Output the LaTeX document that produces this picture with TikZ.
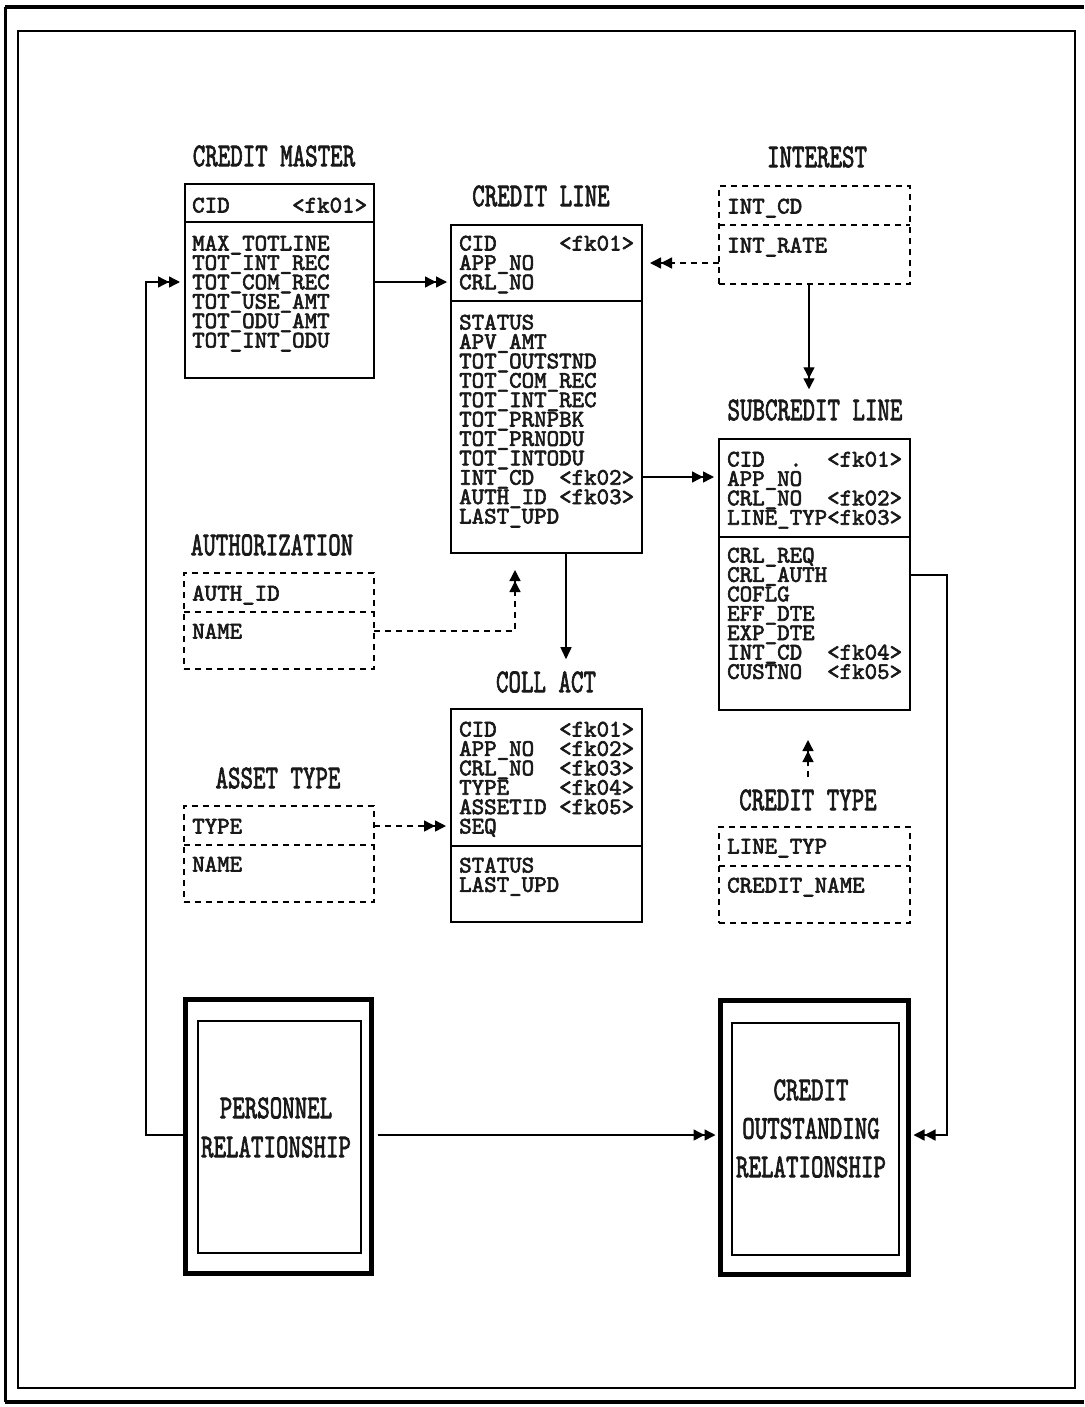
\documentclass[tikz,border=0pt]{standalone}
\usepackage{fontspec}
\usepackage{graphicx}
\usetikzlibrary{arrows.meta}
\newfontfamily\tfont{lmmono10-regular}[Extension=.otf,FakeBold=2.5]
\newcommand\afont{\tfont\fontsize{23.8}{19.4}\selectfont}
\newcommand\tlfont{\tfont\fontsize{23.8}{39}\selectfont}
\newcommand\tl[1]{\scalebox{1}[1.4]{#1}}
\newcommand\fl{\rule{0pt}{19pt}}
\lineskiplimit=-100pt
\lineskip=0pt
\begin{document}
\begin{tikzpicture}[x=1pt,y=-1pt,
  ent/.style={draw, line width=1.5pt, rectangle, anchor=north west, inner sep=0pt, outer sep=0pt},
  dent/.style={ent, dash pattern=on 6pt off 5pt},
  txt/.style={anchor=north west, inner sep=0pt, align=left, font=\afont, text=black!90},
  ttl/.style={inner sep=0pt, font=\tlfont, text=black!90},
  rel/.style={draw, line width=5pt, rectangle, anchor=north west, inner sep=0pt, outer sep=0pt},
  relin/.style={draw, line width=1.5pt, rectangle, anchor=north west, inner sep=0pt},
  conn/.style={line width=1.4pt},
  dconn/.style={line width=1.4pt, dash pattern=on 6pt off 5pt},
  dbl/.style={-{Triangle[length=11pt,width=11pt]Triangle[length=11pt,width=11pt]}},
  sgl/.style={-{Triangle[length=12pt,width=11pt]}},
  divl/.style={line width=1.5pt},
  ddivl/.style={line width=1.5pt, dash pattern=on 6pt off 5pt}
]
\useasboundingbox (0,0) rectangle (1084,1407);
% page frame
\draw[line width=4pt] (5,7) -- (1084,7);
\draw[line width=3pt] (5,7) -- (5,1402);
\draw[line width=4pt] (5,1402) -- (1084,1402);
\draw[line width=2pt] (18,31) rectangle (1075,1388);

% CREDIT MASTER
\node[ttl] (cmtitle) at (274,156) {\tl{CREDIT MASTER}};
\node[ent, minimum width=189pt, minimum height=194pt] (cmbox) at (185,184) {};
\draw[divl] (cmbox.west |- 0,222) -- (cmbox.east |- 0,222);
\node[txt] (cmkeys) at (192,193.3) {\fl CID~~~~~<fk01>};
\node[txt] (cmattrs) at (192,231.3) {\fl MAX\_TOTLINE\\TOT\_INT\_REC\\TOT\_COM\_REC\\TOT\_USE\_AMT\\TOT\_ODU\_AMT\\TOT\_INT\_ODU};

% CREDIT LINE
\node[ttl] (cltitle) at (541,196) {\tl{CREDIT LINE}};
\node[ent, minimum width=191pt, minimum height=328pt] (clbox) at (451,225) {};
\draw[divl] (clbox.west |- 0,301) -- (clbox.east |- 0,301);
\node[txt] (clkeys) at (459,231.3) {\fl CID~~~~~<fk01>\\APP\_NO\\CRL\_NO};
\node[txt] (clattrs) at (459,310.3) {\fl STATUS\\APV\_AMT\\TOT\_OUTSTND\\TOT\_COM\_REC\\TOT\_INT\_REC\\TOT\_PRNPBK\\TOT\_PRNODU\\TOT\_INTODU\\INT\_CD~~<fk02>\\AUTH\_ID~<fk03>\\LAST\_UPD};

% INTEREST
\node[ttl] (inttitle) at (817,157) {\tl{INTEREST}};
\node[dent, minimum width=191pt, minimum height=98pt] (intbox) at (719,186) {};
\draw[ddivl] (intbox.west |- 0,225) -- (intbox.east |- 0,225);
\node[txt] (intkeys) at (727,194.3) {\fl INT\_CD};
\node[txt] (intattrs) at (727,233.3) {\fl INT\_RATE};

% SUBCREDIT LINE
\node[ttl] (scltitle) at (815,410) {\tl{SUBCREDIT LINE}};
\node[ent, minimum width=191pt, minimum height=271pt] (sclbox) at (719,439) {};
\draw[divl] (sclbox.west |- 0,537) -- (sclbox.east |- 0,537);
\node[txt] (sclkeys) at (727,447.3) {\fl CID~~.~~<fk01>\\APP\_NO\\CRL\_NO~~<fk02>\\LINE\_TYP<fk03>};
\node[txt] (sclattrs) at (727,543.3) {\fl CRL\_REQ\\CRL\_AUTH\\COFLG\\EFF\_DTE\\EXP\_DTE\\INT\_CD~~<fk04>\\CUSTNO~~<fk05>};

% AUTHORIZATION
\node[ttl] (authtitle) at (272,545) {\tl{AUTHORIZATION}};
\node[dent, minimum width=190pt, minimum height=96pt] (authbox) at (184,573) {};
\draw[ddivl] (authbox.west |- 0,612) -- (authbox.east |- 0,612);
\node[txt] (authkeys) at (192,581.3) {\fl AUTH\_ID};
\node[txt] (authattrs) at (192,619.3) {\fl NAME};

% COLL ACT
\node[ttl] (colltitle) at (546,682) {\tl{COLL ACT}};
\node[ent, minimum width=191pt, minimum height=213pt] (collbox) at (451,709) {};
\draw[divl] (collbox.west |- 0,846) -- (collbox.east |- 0,846);
\node[txt] (collkeys) at (459,717.3) {\fl CID~~~~~<fk01>\\APP\_NO~~<fk02>\\CRL\_NO~~<fk03>\\TYPE~~~~<fk04>\\ASSETID~<fk05>\\SEQ};
\node[txt] (collattrs) at (459,853.3) {\fl STATUS\\LAST\_UPD};

% ASSET TYPE
\node[ttl] (assettitle) at (278,778) {\tl{ASSET TYPE}};
\node[dent, minimum width=190pt, minimum height=96pt] (assetbox) at (184,806) {};
\draw[ddivl] (assetbox.west |- 0,845) -- (assetbox.east |- 0,845);
\node[txt] (assetkeys) at (192,814.3) {\fl TYPE};
\node[txt] (assetattrs) at (192,852.3) {\fl NAME};

% CREDIT TYPE
\node[ttl] (cttitle) at (808,800) {\tl{CREDIT TYPE}};
\node[dent, minimum width=191pt, minimum height=96pt] (ctbox) at (719,827) {};
\draw[ddivl] (ctbox.west |- 0,866) -- (ctbox.east |- 0,866);
\node[txt] (ctkeys) at (727,834.3) {\fl LINE\_TYP};
\node[txt] (ctattrs) at (727,873.3) {\fl CREDIT\_NAME};

% PERSONNEL RELATIONSHIP
\node[rel, minimum width=186pt, minimum height=274pt] (persbox) at (185.5,999.5) {};
\node[relin, minimum width=163pt, minimum height=232pt] (persin) at (197,1020) {};
\node[ttl, align=center] (perstext) at (276,1127.5) {\tl{PERSONNEL}\\\tl{RELATIONSHIP}};

% CREDIT OUTSTANDING RELATIONSHIP
\node[rel, minimum width=188pt, minimum height=274pt] (corbox) at (720.5,1000.5) {};
\node[relin, minimum width=167pt, minimum height=232pt] (corin) at (731,1022) {};
\node[ttl, align=center, font=\tfont\fontsize{23.8}{38.5}\selectfont] (cortext) at (811,1128.5) {\tl{CREDIT}\\\tl{OUTSTANDING}\\\tl{RELATIONSHIP}};

% connectors
\coordinate (lcorner) at (146,282);
\coordinate (rcorner) at (947,1135);
\draw[conn, dbl, shorten >=4pt] (cmbox.east |- 0,282) -- (clbox.west |- 0,282);
\draw[dconn, dbl, shorten >=8pt] (intbox.west |- 0,263) -- (clbox.east |- 0,263);
\draw[conn, dbl, shorten >=10pt] (intbox.south -| 809,0) -- (scltitle.north -| 809,0);
\draw[conn, dbl, shorten >=5pt] (clbox.east |- 0,477) -- (sclbox.west |- 0,477);
\draw[dconn, dbl, shorten >=17pt] (authbox.east |- 0,631) -| (clbox.south -| 515,0);
\draw[conn, sgl, shorten >=12pt] (clbox.south -| 566,0) -- (colltitle.north -| 566,0);
\draw[dconn, dbl, shorten >=5pt] (assetbox.east |- 0,826) -- (collbox.west |- 0,826);
\draw[dconn, dbl, shorten <=12pt, shorten >=30pt] (cttitle.north -| 808,0) -- (sclbox.south -| 808,0);
\draw[conn, dbl, shorten >=5pt] (persbox.west |- 0,1135) -| (lcorner) -- (cmbox.west |- lcorner);
\draw[conn, dbl, shorten <=6pt, shorten >=5pt] (persbox.east |- 0,1135) -- (corbox.west |- 0,1135);
\draw[conn, dbl, shorten >=5pt] (sclbox.east |- 0,575) -| (rcorner) -- (corbox.east |- rcorner);
\end{tikzpicture}
\end{document}
